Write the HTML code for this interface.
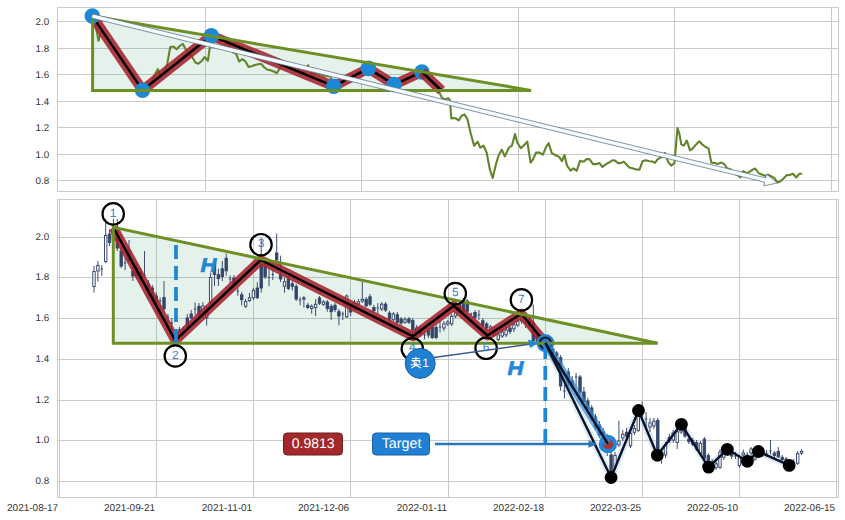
<!DOCTYPE html><html><head><meta charset="utf-8"><style>html,body{margin:0;padding:0;background:#fff;width:845px;height:520px;overflow:hidden}svg{display:block}text{font-family:"Liberation Sans",sans-serif;text-rendering:geometricPrecision}</style></head><body>
<svg width="845" height="520" viewBox="0 0 845 520">
<defs><clipPath id="ct"><rect x="57.5" y="7.5" width="781.0" height="184.0"/></clipPath><clipPath id="cb"><rect x="57.5" y="199.5" width="781.0" height="298.0"/></clipPath></defs>
<path d="M57.5,21.5H838.5M57.5,48.5H838.5M57.5,74.5H838.5M57.5,101.5H838.5M57.5,127.5H838.5M57.5,154.5H838.5M57.5,180.5H838.5M205.5,7.5V191.5M361.5,7.5V191.5M518.5,7.5V191.5M674.5,7.5V191.5M831.5,7.5V191.5" stroke="#cbcbcb" stroke-width="1" fill="none"/>
<rect x="57.5" y="7.5" width="781.0" height="184.0" fill="none" stroke="#cbcbcb" stroke-width="1"/>
<text x="49.2" y="25.0" font-size="9.8" fill="#333333" text-anchor="end">2.0</text>
<text x="49.2" y="52.0" font-size="9.8" fill="#333333" text-anchor="end">1.8</text>
<text x="49.2" y="78.0" font-size="9.8" fill="#333333" text-anchor="end">1.6</text>
<text x="49.2" y="105.0" font-size="9.8" fill="#333333" text-anchor="end">1.4</text>
<text x="49.2" y="131.0" font-size="9.8" fill="#333333" text-anchor="end">1.2</text>
<text x="49.2" y="158.0" font-size="9.8" fill="#333333" text-anchor="end">1.0</text>
<text x="49.2" y="184.0" font-size="9.8" fill="#333333" text-anchor="end">0.8</text>
<g clip-path="url(#ct)">
<polygon points="92.6,16.1 92.6,90.4 531.0,90.4" fill="#008040" fill-opacity="0.105"/>
<path d="M92.3,16.1 L95.1,22.0 L98.4,40.8 L101.4,30.0 L104.5,34.5 L107.7,39.0 L110.8,44.0 L113.9,48.0 L117.1,53.5 L120.2,57.0 L123.3,62.5 L126.5,66.5 L129.6,71.5 L132.7,76.5 L135.9,80.5 L139.0,85.5 L142.6,90.5 L145.3,88.0 L148.4,86.0 L151.5,82.0 L154.7,75.0 L157.8,69.2 L160.9,76.0 L164.1,73.0 L167.2,64.0 L170.3,47.0 L173.5,46.5 L176.6,49.2 L179.7,46.0 L182.8,43.8 L186.0,50.0 L189.1,53.5 L192.2,56.9 L195.4,62.5 L198.5,63.8 L201.6,61.0 L204.8,57.0 L207.9,60.8 L211.5,35.6 L214.2,38.0 L217.3,40.0 L220.4,42.0 L223.6,39.0 L226.7,43.0 L229.8,46.0 L233.0,52.3 L236.1,53.8 L239.2,61.5 L242.4,59.2 L245.5,61.5 L248.6,66.9 L251.8,66.2 L254.9,65.0 L258.0,64.3 L261.2,63.8 L264.3,67.5 L267.4,69.7 L270.6,70.2 L273.7,71.5 L276.8,73.1 L280.0,68.0 L283.1,66.0 L286.2,67.0 L289.4,69.0 L292.5,70.0 L295.6,70.0 L298.8,71.0 L301.9,72.0 L305.0,72.5 L308.2,65.3 L311.3,74.0 L314.4,73.0 L317.6,73.5 L320.7,74.4 L323.8,75.8 L327.0,76.0 L330.1,76.4 L333.7,86.2 L336.9,86.1 L340.0,81.5 L343.2,82.8 L346.3,78.2 L349.5,79.6 L352.6,75.0 L355.8,76.4 L358.9,71.8 L362.1,73.1 L365.2,68.5 L368.4,68.4 L371.6,71.9 L374.8,71.0 L378.0,76.0 L381.2,75.0 L384.5,80.0 L387.7,79.0 L390.9,84.1 L394.1,84.6 L397.2,84.7 L400.3,80.3 L403.4,81.9 L406.5,77.5 L409.5,79.1 L412.6,74.7 L415.7,76.3 L418.8,71.9 L421.9,72.0 L425.2,76.6 L428.4,76.7 L431.7,82.8 L435.0,82.8 L438.2,88.9 L439.2,92.1 L442.2,98.2 L445.3,99.2 L448.3,98.2 L449.9,100.2 L451.3,118.4 L454.3,118.0 L456.4,118.8 L458.8,120.4 L461.4,116.0 L464.4,114.3 L467.5,119.4 L470.5,132.5 L474.1,145.7 L477.6,141.6 L480.2,147.7 L483.6,145.7 L486.7,152.7 L489.7,168.9 L492.7,178.0 L495.8,164.8 L498.8,154.7 L501.8,149.7 L504.8,156.4 L508.9,147.7 L511.9,145.7 L515.0,134.1 L517.2,142.5 L520.8,148.2 L523.7,145.4 L527.3,141.7 L530.6,162.7 L533.1,159.1 L536.0,152.6 L539.6,152.6 L542.9,154.7 L546.1,146.8 L548.7,143.2 L551.8,153.3 L556.2,155.5 L559.1,156.9 L562.0,161.2 L564.5,155.0 L567.0,165.6 L570.6,170.6 L573.5,168.4 L576.7,170.9 L580.0,160.8 L583.6,161.7 L586.5,159.1 L589.4,159.1 L593.0,164.1 L596.6,164.1 L599.5,163.1 L602.4,167.0 L606.0,164.1 L609.6,162.2 L612.5,160.3 L615.0,160.6 L618.1,163.1 L620.6,163.1 L623.8,161.6 L626.9,165.0 L629.4,167.5 L633.1,168.4 L636.3,169.4 L639.4,169.8 L642.5,161.3 L645.6,160.3 L649.4,161.3 L652.5,161.5 L655.0,162.8 L657.5,159.4 L660.0,157.9 L662.5,156.9 L664.8,152.8 L666.9,158.8 L668.8,163.1 L671.3,165.6 L674.4,163.1 L675.0,156.3 L677.5,128.1 L679.4,133.8 L681.3,144.4 L683.8,145.6 L686.9,140.6 L690.0,150.5 L692.8,148.4 L695.7,144.9 L699.2,141.3 L702.8,144.9 L705.6,147.0 L708.5,148.4 L711.3,162.6 L714.9,162.9 L717.7,164.0 L721.3,162.6 L724.1,164.0 L727.2,168.3 L731.2,169.7 L735.5,174.0 L739.0,176.1 L740.4,177.5 L743.3,171.1 L746.8,173.3 L749.7,171.8 L752.5,169.7 L755.3,168.6 L758.9,173.3 L762.4,174.7 L766.0,176.1 L768.1,174.7 L771.0,176.1 L774.5,178.2 L777.4,182.5 L780.2,181.4 L783.8,178.2 L786.6,175.1 L789.4,175.1 L793.0,173.7 L796.3,177.5 L799.4,173.7 L802.2,173.7" stroke="#62842a" stroke-width="2.1" fill="none" stroke-linejoin="round"/>
<path d="M92.3,16.1 L142.5,90.2 L211.3,35.7 L333.7,86.2 L368.4,68.4 L394.1,84.6 L421.9,72.0" stroke="#a7222c" stroke-width="10.1" fill="none" stroke-linejoin="round" stroke-opacity="0.88"/>
<path d="M92.3,16.1 L142.5,90.2 L211.3,35.7 L333.7,86.2 L368.4,68.4 L394.1,84.6 L421.9,72.0" stroke="#000" stroke-width="2.4" fill="none" stroke-linejoin="round"/>
<circle cx="92.3" cy="16.1" r="7.8" fill="#1f88d6"/>
<circle cx="142.5" cy="90.2" r="7.8" fill="#1f88d6"/>
<circle cx="211.3" cy="35.7" r="7.8" fill="#1f88d6"/>
<circle cx="333.7" cy="86.2" r="7.8" fill="#1f88d6"/>
<circle cx="368.4" cy="68.4" r="7.8" fill="#1f88d6"/>
<circle cx="394.1" cy="84.6" r="7.8" fill="#1f88d6"/>
<circle cx="421.9" cy="72.0" r="7.8" fill="#1f88d6"/>
<path d="M421.9,72.0 L441.5,90.5" stroke="#a7222c" stroke-width="10.1" fill="none" stroke-linecap="butt" stroke-opacity="0.88"/>
<path d="M421.9,72.0 L441.5,90.5" stroke="#000" stroke-width="2.6" fill="none"/>
<polygon points="92.6,16.1 92.6,90.4 531.0,90.4" fill="none" stroke="#6c9024" stroke-width="3" stroke-linejoin="miter"/>
<polygon points="91.5,18.1 764.6,182.2 763.7,185.9 777.3,183.0 766.6,174.2 765.7,177.9 92.5,13.9" fill="#f6fbff" stroke="#587188" stroke-width="0.75" stroke-linejoin="miter"/>
</g>
<path d="M57.5,237.5H838.5M57.5,277.5H838.5M57.5,318.5H838.5M57.5,359.5H838.5M57.5,400.5H838.5M57.5,440.5H838.5M57.5,481.5H838.5M59.5,199.5V497.5M156.5,199.5V497.5M253.5,199.5V497.5M350.5,199.5V497.5M448.5,199.5V497.5M545.5,199.5V497.5M642.5,199.5V497.5M739.5,199.5V497.5M836.5,199.5V497.5" stroke="#cbcbcb" stroke-width="1" fill="none"/>
<rect x="57.5" y="199.5" width="781.0" height="298.0" fill="none" stroke="#cbcbcb" stroke-width="1"/>
<text x="49.2" y="240.0" font-size="9.8" fill="#333333" text-anchor="end">2.0</text>
<text x="49.2" y="280.0" font-size="9.8" fill="#333333" text-anchor="end">1.8</text>
<text x="49.2" y="321.0" font-size="9.8" fill="#333333" text-anchor="end">1.6</text>
<text x="49.2" y="362.0" font-size="9.8" fill="#333333" text-anchor="end">1.4</text>
<text x="49.2" y="403.0" font-size="9.8" fill="#333333" text-anchor="end">1.2</text>
<text x="49.2" y="443.0" font-size="9.8" fill="#333333" text-anchor="end">1.0</text>
<text x="49.2" y="484.0" font-size="9.8" fill="#333333" text-anchor="end">0.8</text>
<text x="58.2" y="511.0" font-size="10" fill="#333333" text-anchor="end">2021-08-17</text>
<text x="155.2" y="511.0" font-size="10" fill="#333333" text-anchor="end">2021-09-21</text>
<text x="252.2" y="511.0" font-size="10" fill="#333333" text-anchor="end">2021-11-01</text>
<text x="349.2" y="511.0" font-size="10" fill="#333333" text-anchor="end">2021-12-06</text>
<text x="447.2" y="511.0" font-size="10" fill="#333333" text-anchor="end">2022-01-11</text>
<text x="544.2" y="511.0" font-size="10" fill="#333333" text-anchor="end">2022-02-18</text>
<text x="641.2" y="511.0" font-size="10" fill="#333333" text-anchor="end">2022-03-25</text>
<text x="738.2" y="511.0" font-size="10" fill="#333333" text-anchor="end">2022-05-10</text>
<text x="835.2" y="511.0" font-size="10" fill="#333333" text-anchor="end">2022-06-15</text>
<g clip-path="url(#cb)">
<polygon points="113.3,227.3 113.3,343.3 657.7,343.3" fill="#008040" fill-opacity="0.105"/>
<path d="M545.4,343.0 L611.1,477.5 L638.5,410.5 L657.3,455.3 L681.4,424.3 L708.6,467.1 L727.3,449.3 L747.4,461.3 L758.4,451.5 L789.2,465.4" stroke="#a9cbea" stroke-width="7" fill="none" stroke-linejoin="round" opacity="0.4"/>
<path d="M94.0,266.0V292.5" stroke="#34466a" stroke-width="0.95"/>
<rect x="92.8" y="271.5" width="2.4" height="15.0" fill="#fff" stroke="#34466a" stroke-width="0.95"/>
<path d="M97.9,261.0V281.5" stroke="#34466a" stroke-width="0.95"/>
<rect x="96.7" y="265.4" width="2.4" height="5.6" fill="#fff" stroke="#34466a" stroke-width="0.95"/>
<path d="M101.8,265.0V276.0" stroke="#34466a" stroke-width="0.95"/>
<path d="M100.6,269.0H103.0" stroke="#34466a" stroke-width="1"/>
<path d="M105.7,219.0V263.0" stroke="#34466a" stroke-width="0.95"/>
<rect x="104.5" y="235.4" width="2.4" height="26.1" fill="#fff" stroke="#34466a" stroke-width="0.95"/>
<path d="M109.5,230.0V246.0" stroke="#34466a" stroke-width="0.95"/>
<rect x="108.3" y="234.0" width="2.4" height="8.5" fill="#34466a" stroke="#34466a" stroke-width="0.95"/>
<path d="M113.4,218.5V243.0" stroke="#34466a" stroke-width="0.95"/>
<rect x="112.2" y="232.0" width="2.4" height="8.0" fill="#fff" stroke="#34466a" stroke-width="0.95"/>
<path d="M117.3,219.0V251.0" stroke="#34466a" stroke-width="0.95"/>
<rect x="116.1" y="238.0" width="2.4" height="10.0" fill="#34466a" stroke="#34466a" stroke-width="0.95"/>
<path d="M121.2,246.0V268.0" stroke="#34466a" stroke-width="0.95"/>
<rect x="120.0" y="251.0" width="2.4" height="15.0" fill="#34466a" stroke="#34466a" stroke-width="0.95"/>
<path d="M125.1,257.5V270.0" stroke="#34466a" stroke-width="0.95"/>
<path d="M123.9,263.0H126.3" stroke="#34466a" stroke-width="1"/>
<path d="M129.0,240.0V262.0" stroke="#34466a" stroke-width="0.95"/>
<rect x="127.8" y="250.0" width="2.4" height="10.0" fill="#34466a" stroke="#34466a" stroke-width="0.95"/>
<path d="M132.9,266.0V281.0" stroke="#34466a" stroke-width="0.95"/>
<rect x="131.7" y="271.0" width="2.4" height="5.0" fill="#34466a" stroke="#34466a" stroke-width="0.95"/>
<path d="M136.8,264.0V279.0" stroke="#34466a" stroke-width="0.95"/>
<rect x="135.6" y="268.0" width="2.4" height="8.0" fill="#34466a" stroke="#34466a" stroke-width="0.95"/>
<path d="M140.6,268.0V283.0" stroke="#34466a" stroke-width="0.95"/>
<rect x="139.4" y="272.0" width="2.4" height="8.0" fill="#34466a" stroke="#34466a" stroke-width="0.95"/>
<path d="M144.5,251.0V277.5" stroke="#34466a" stroke-width="0.95"/>
<path d="M143.3,275.0H145.7" stroke="#34466a" stroke-width="1"/>
<path d="M148.4,280.0V295.0" stroke="#34466a" stroke-width="0.95"/>
<rect x="147.2" y="284.0" width="2.4" height="8.0" fill="#34466a" stroke="#34466a" stroke-width="0.95"/>
<path d="M152.3,285.0V300.0" stroke="#34466a" stroke-width="0.95"/>
<rect x="151.1" y="288.0" width="2.4" height="10.0" fill="#34466a" stroke="#34466a" stroke-width="0.95"/>
<path d="M156.2,292.0V306.0" stroke="#34466a" stroke-width="0.95"/>
<rect x="155.0" y="296.0" width="2.4" height="8.0" fill="#34466a" stroke="#34466a" stroke-width="0.95"/>
<path d="M160.1,297.5V315.0" stroke="#34466a" stroke-width="0.95"/>
<path d="M158.9,301.0H161.3" stroke="#34466a" stroke-width="1"/>
<path d="M164.0,281.0V312.0" stroke="#34466a" stroke-width="0.95"/>
<rect x="162.8" y="297.5" width="2.4" height="11.3" fill="#34466a" stroke="#34466a" stroke-width="0.95"/>
<path d="M167.9,314.0V322.5" stroke="#34466a" stroke-width="0.95"/>
<path d="M166.7,317.0H169.1" stroke="#34466a" stroke-width="1"/>
<path d="M171.8,318.0V330.0" stroke="#34466a" stroke-width="0.95"/>
<path d="M170.6,323.0H173.0" stroke="#34466a" stroke-width="1"/>
<path d="M175.6,330.0V340.4" stroke="#34466a" stroke-width="0.95"/>
<path d="M174.4,337.0H176.8" stroke="#34466a" stroke-width="1"/>
<path d="M179.5,327.0V338.0" stroke="#34466a" stroke-width="0.95"/>
<rect x="178.3" y="330.0" width="2.4" height="6.0" fill="#fff" stroke="#34466a" stroke-width="0.95"/>
<path d="M183.4,326.5V336.0" stroke="#34466a" stroke-width="0.95"/>
<path d="M182.2,331.0H184.6" stroke="#34466a" stroke-width="1"/>
<path d="M187.3,314.0V330.0" stroke="#34466a" stroke-width="0.95"/>
<rect x="186.1" y="318.0" width="2.4" height="8.0" fill="#34466a" stroke="#34466a" stroke-width="0.95"/>
<path d="M191.2,310.0V319.0" stroke="#34466a" stroke-width="0.95"/>
<rect x="190.0" y="314.0" width="2.4" height="4.0" fill="#34466a" stroke="#34466a" stroke-width="0.95"/>
<path d="M195.1,302.5V315.0" stroke="#34466a" stroke-width="0.95"/>
<path d="M193.9,309.0H196.3" stroke="#34466a" stroke-width="1"/>
<path d="M199.0,303.0V318.0" stroke="#34466a" stroke-width="0.95"/>
<rect x="197.8" y="306.3" width="2.4" height="8.7" fill="#34466a" stroke="#34466a" stroke-width="0.95"/>
<path d="M202.9,302.0V316.0" stroke="#34466a" stroke-width="0.95"/>
<rect x="201.7" y="306.0" width="2.4" height="6.0" fill="#fff" stroke="#34466a" stroke-width="0.95"/>
<path d="M206.7,306.0V325.6" stroke="#34466a" stroke-width="0.95"/>
<rect x="205.5" y="310.0" width="2.4" height="8.0" fill="#fff" stroke="#34466a" stroke-width="0.95"/>
<path d="M210.6,272.7V304.0" stroke="#34466a" stroke-width="0.95"/>
<rect x="209.4" y="277.5" width="2.4" height="25.0" fill="#fff" stroke="#34466a" stroke-width="0.95"/>
<path d="M214.5,258.0V286.0" stroke="#34466a" stroke-width="0.95"/>
<rect x="213.3" y="263.0" width="2.4" height="11.6" fill="#34466a" stroke="#34466a" stroke-width="0.95"/>
<path d="M218.4,268.8V286.0" stroke="#34466a" stroke-width="0.95"/>
<rect x="217.2" y="274.6" width="2.4" height="3.9" fill="#34466a" stroke="#34466a" stroke-width="0.95"/>
<path d="M222.3,261.0V281.0" stroke="#34466a" stroke-width="0.95"/>
<rect x="221.1" y="268.8" width="2.4" height="7.7" fill="#34466a" stroke="#34466a" stroke-width="0.95"/>
<path d="M226.2,253.5V275.6" stroke="#34466a" stroke-width="0.95"/>
<rect x="225.0" y="258.3" width="2.4" height="12.5" fill="#34466a" stroke="#34466a" stroke-width="0.95"/>
<path d="M230.1,275.6V283.0" stroke="#34466a" stroke-width="0.95"/>
<path d="M228.9,279.0H231.3" stroke="#34466a" stroke-width="1"/>
<path d="M234.0,275.0V288.0" stroke="#34466a" stroke-width="0.95"/>
<rect x="232.8" y="278.0" width="2.4" height="7.0" fill="#34466a" stroke="#34466a" stroke-width="0.95"/>
<path d="M237.8,288.0V295.8" stroke="#34466a" stroke-width="0.95"/>
<path d="M236.6,291.0H239.0" stroke="#34466a" stroke-width="1"/>
<path d="M241.7,292.0V305.4" stroke="#34466a" stroke-width="0.95"/>
<rect x="240.5" y="294.8" width="2.4" height="4.8" fill="#34466a" stroke="#34466a" stroke-width="0.95"/>
<path d="M245.6,299.0V308.0" stroke="#34466a" stroke-width="0.95"/>
<rect x="244.4" y="301.5" width="2.4" height="4.8" fill="#fff" stroke="#34466a" stroke-width="0.95"/>
<path d="M249.5,292.9V302.0" stroke="#34466a" stroke-width="0.95"/>
<rect x="248.3" y="297.7" width="2.4" height="2.9" fill="#fff" stroke="#34466a" stroke-width="0.95"/>
<path d="M253.4,288.0V300.0" stroke="#34466a" stroke-width="0.95"/>
<rect x="252.2" y="290.4" width="2.4" height="7.3" fill="#fff" stroke="#34466a" stroke-width="0.95"/>
<path d="M257.3,282.3V299.0" stroke="#34466a" stroke-width="0.95"/>
<rect x="256.1" y="288.0" width="2.4" height="9.7" fill="#34466a" stroke="#34466a" stroke-width="0.95"/>
<path d="M261.2,238.0V292.7" stroke="#34466a" stroke-width="0.95"/>
<rect x="260.0" y="265.0" width="2.4" height="23.0" fill="#34466a" stroke="#34466a" stroke-width="0.95"/>
<path d="M265.1,262.0V279.0" stroke="#34466a" stroke-width="0.95"/>
<rect x="263.9" y="266.2" width="2.4" height="10.6" fill="#34466a" stroke="#34466a" stroke-width="0.95"/>
<path d="M269.0,269.4V286.3" stroke="#34466a" stroke-width="0.95"/>
<path d="M267.8,277.5H270.2" stroke="#34466a" stroke-width="1"/>
<path d="M272.8,269.4V280.0" stroke="#34466a" stroke-width="0.95"/>
<path d="M271.6,274.5H274.0" stroke="#34466a" stroke-width="1"/>
<path d="M276.7,233.5V262.0" stroke="#34466a" stroke-width="0.95"/>
<rect x="275.5" y="253.0" width="2.4" height="7.0" fill="#34466a" stroke="#34466a" stroke-width="0.95"/>
<path d="M280.6,255.7V282.0" stroke="#34466a" stroke-width="0.95"/>
<rect x="279.4" y="274.7" width="2.4" height="4.3" fill="#34466a" stroke="#34466a" stroke-width="0.95"/>
<path d="M284.5,277.9V292.7" stroke="#34466a" stroke-width="0.95"/>
<rect x="283.3" y="281.7" width="2.4" height="4.6" fill="#fff" stroke="#34466a" stroke-width="0.95"/>
<path d="M288.4,276.0V290.0" stroke="#34466a" stroke-width="0.95"/>
<rect x="287.2" y="278.9" width="2.4" height="9.5" fill="#34466a" stroke="#34466a" stroke-width="0.95"/>
<path d="M292.3,281.0V290.5" stroke="#34466a" stroke-width="0.95"/>
<rect x="291.1" y="283.8" width="2.4" height="2.5" fill="#34466a" stroke="#34466a" stroke-width="0.95"/>
<path d="M296.2,284.0V301.0" stroke="#34466a" stroke-width="0.95"/>
<rect x="295.0" y="286.3" width="2.4" height="12.7" fill="#34466a" stroke="#34466a" stroke-width="0.95"/>
<path d="M300.1,296.9V305.3" stroke="#34466a" stroke-width="0.95"/>
<path d="M298.9,300.0H301.3" stroke="#34466a" stroke-width="1"/>
<path d="M303.9,296.0V307.5" stroke="#34466a" stroke-width="0.95"/>
<rect x="302.7" y="298.0" width="2.4" height="1.0" fill="#34466a" stroke="#34466a" stroke-width="0.95"/>
<path d="M307.8,303.0V309.0" stroke="#34466a" stroke-width="0.95"/>
<rect x="306.6" y="305.3" width="2.4" height="2.2" fill="#34466a" stroke="#34466a" stroke-width="0.95"/>
<path d="M311.7,304.3V313.8" stroke="#34466a" stroke-width="0.95"/>
<rect x="310.5" y="306.4" width="2.4" height="2.1" fill="#fff" stroke="#34466a" stroke-width="0.95"/>
<path d="M315.6,299.0V316.0" stroke="#34466a" stroke-width="0.95"/>
<rect x="314.4" y="304.3" width="2.4" height="3.2" fill="#fff" stroke="#34466a" stroke-width="0.95"/>
<path d="M319.5,296.0V305.0" stroke="#34466a" stroke-width="0.95"/>
<rect x="318.3" y="298.0" width="2.4" height="5.2" fill="#34466a" stroke="#34466a" stroke-width="0.95"/>
<path d="M323.4,300.0V306.0" stroke="#34466a" stroke-width="0.95"/>
<rect x="322.2" y="302.0" width="2.4" height="2.3" fill="#fff" stroke="#34466a" stroke-width="0.95"/>
<path d="M327.3,300.0V311.7" stroke="#34466a" stroke-width="0.95"/>
<rect x="326.1" y="302.0" width="2.4" height="6.5" fill="#34466a" stroke="#34466a" stroke-width="0.95"/>
<path d="M331.2,304.0V320.0" stroke="#34466a" stroke-width="0.95"/>
<rect x="330.0" y="306.4" width="2.4" height="5.3" fill="#34466a" stroke="#34466a" stroke-width="0.95"/>
<path d="M335.0,303.0V312.0" stroke="#34466a" stroke-width="0.95"/>
<rect x="333.8" y="305.3" width="2.4" height="4.3" fill="#34466a" stroke="#34466a" stroke-width="0.95"/>
<path d="M338.9,309.0V325.4" stroke="#34466a" stroke-width="0.95"/>
<rect x="337.7" y="311.7" width="2.4" height="4.3" fill="#34466a" stroke="#34466a" stroke-width="0.95"/>
<path d="M342.8,311.7V320.0" stroke="#34466a" stroke-width="0.95"/>
<path d="M341.6,314.0H344.0" stroke="#34466a" stroke-width="1"/>
<path d="M346.7,294.4V318.0" stroke="#34466a" stroke-width="0.95"/>
<rect x="345.5" y="296.0" width="2.4" height="20.8" fill="#fff" stroke="#34466a" stroke-width="0.95"/>
<path d="M350.6,303.0V316.0" stroke="#34466a" stroke-width="0.95"/>
<rect x="349.4" y="306.0" width="2.4" height="6.0" fill="#34466a" stroke="#34466a" stroke-width="0.95"/>
<path d="M354.5,300.0V311.0" stroke="#34466a" stroke-width="0.95"/>
<rect x="353.3" y="303.0" width="2.4" height="5.0" fill="#fff" stroke="#34466a" stroke-width="0.95"/>
<path d="M358.4,299.0V306.0" stroke="#34466a" stroke-width="0.95"/>
<rect x="357.2" y="301.7" width="2.4" height="2.2" fill="#fff" stroke="#34466a" stroke-width="0.95"/>
<path d="M362.3,281.3V303.0" stroke="#34466a" stroke-width="0.95"/>
<rect x="361.1" y="299.3" width="2.4" height="1.7" fill="#fff" stroke="#34466a" stroke-width="0.95"/>
<path d="M366.2,297.0V307.0" stroke="#34466a" stroke-width="0.95"/>
<rect x="365.0" y="299.3" width="2.4" height="6.5" fill="#34466a" stroke="#34466a" stroke-width="0.95"/>
<path d="M370.0,294.0V306.0" stroke="#34466a" stroke-width="0.95"/>
<rect x="368.8" y="296.8" width="2.4" height="7.4" fill="#34466a" stroke="#34466a" stroke-width="0.95"/>
<path d="M373.9,305.0V313.0" stroke="#34466a" stroke-width="0.95"/>
<rect x="372.7" y="307.5" width="2.4" height="3.2" fill="#34466a" stroke="#34466a" stroke-width="0.95"/>
<path d="M377.8,303.0V314.0" stroke="#34466a" stroke-width="0.95"/>
<path d="M376.6,308.0H379.0" stroke="#34466a" stroke-width="1"/>
<path d="M381.7,302.0V311.0" stroke="#34466a" stroke-width="0.95"/>
<rect x="380.5" y="304.2" width="2.4" height="4.8" fill="#fff" stroke="#34466a" stroke-width="0.95"/>
<path d="M385.6,302.0V312.0" stroke="#34466a" stroke-width="0.95"/>
<rect x="384.4" y="304.2" width="2.4" height="5.8" fill="#34466a" stroke="#34466a" stroke-width="0.95"/>
<path d="M389.5,311.0V321.0" stroke="#34466a" stroke-width="0.95"/>
<rect x="388.3" y="313.2" width="2.4" height="5.8" fill="#34466a" stroke="#34466a" stroke-width="0.95"/>
<path d="M393.4,312.0V321.0" stroke="#34466a" stroke-width="0.95"/>
<rect x="392.2" y="314.0" width="2.4" height="5.7" fill="#fff" stroke="#34466a" stroke-width="0.95"/>
<path d="M397.3,312.0V324.0" stroke="#34466a" stroke-width="0.95"/>
<rect x="396.1" y="314.8" width="2.4" height="7.4" fill="#34466a" stroke="#34466a" stroke-width="0.95"/>
<path d="M401.1,317.0V325.0" stroke="#34466a" stroke-width="0.95"/>
<rect x="399.9" y="319.0" width="2.4" height="4.0" fill="#34466a" stroke="#34466a" stroke-width="0.95"/>
<path d="M405.0,317.0V324.0" stroke="#34466a" stroke-width="0.95"/>
<rect x="403.8" y="319.7" width="2.4" height="2.5" fill="#fff" stroke="#34466a" stroke-width="0.95"/>
<path d="M408.9,317.0V324.0" stroke="#34466a" stroke-width="0.95"/>
<rect x="407.7" y="319.0" width="2.4" height="3.2" fill="#34466a" stroke="#34466a" stroke-width="0.95"/>
<path d="M412.8,318.0V336.3" stroke="#34466a" stroke-width="0.95"/>
<rect x="411.6" y="320.6" width="2.4" height="9.0" fill="#34466a" stroke="#34466a" stroke-width="0.95"/>
<path d="M416.7,325.0V337.0" stroke="#34466a" stroke-width="0.95"/>
<rect x="415.5" y="328.0" width="2.4" height="5.0" fill="#fff" stroke="#34466a" stroke-width="0.95"/>
<path d="M420.6,326.0V337.0" stroke="#34466a" stroke-width="0.95"/>
<rect x="419.4" y="329.0" width="2.4" height="5.0" fill="#34466a" stroke="#34466a" stroke-width="0.95"/>
<path d="M424.5,332.5V339.4" stroke="#34466a" stroke-width="0.95"/>
<path d="M423.3,335.0H425.7" stroke="#34466a" stroke-width="1"/>
<path d="M428.4,328.0V338.0" stroke="#34466a" stroke-width="0.95"/>
<rect x="427.2" y="330.0" width="2.4" height="5.0" fill="#34466a" stroke="#34466a" stroke-width="0.95"/>
<path d="M432.2,325.0V339.0" stroke="#34466a" stroke-width="0.95"/>
<rect x="431.0" y="327.5" width="2.4" height="10.0" fill="#34466a" stroke="#34466a" stroke-width="0.95"/>
<path d="M436.1,325.0V339.4" stroke="#34466a" stroke-width="0.95"/>
<rect x="434.9" y="327.5" width="2.4" height="10.0" fill="#34466a" stroke="#34466a" stroke-width="0.95"/>
<path d="M440.0,321.0V332.5" stroke="#34466a" stroke-width="0.95"/>
<path d="M438.8,327.0H441.2" stroke="#34466a" stroke-width="1"/>
<path d="M443.9,321.0V331.0" stroke="#34466a" stroke-width="0.95"/>
<rect x="442.7" y="323.8" width="2.4" height="4.2" fill="#fff" stroke="#34466a" stroke-width="0.95"/>
<path d="M447.8,320.0V326.0" stroke="#34466a" stroke-width="0.95"/>
<rect x="446.6" y="321.9" width="2.4" height="2.1" fill="#fff" stroke="#34466a" stroke-width="0.95"/>
<path d="M451.7,313.8V326.0" stroke="#34466a" stroke-width="0.95"/>
<rect x="450.5" y="316.3" width="2.4" height="7.5" fill="#fff" stroke="#34466a" stroke-width="0.95"/>
<path d="M455.6,305.8V318.0" stroke="#34466a" stroke-width="0.95"/>
<rect x="454.4" y="306.0" width="2.4" height="10.0" fill="#fff" stroke="#34466a" stroke-width="0.95"/>
<path d="M459.5,300.0V313.0" stroke="#34466a" stroke-width="0.95"/>
<rect x="458.3" y="304.0" width="2.4" height="6.0" fill="#34466a" stroke="#34466a" stroke-width="0.95"/>
<path d="M463.4,298.0V314.0" stroke="#34466a" stroke-width="0.95"/>
<rect x="462.2" y="303.0" width="2.4" height="8.9" fill="#34466a" stroke="#34466a" stroke-width="0.95"/>
<path d="M467.2,299.0V313.0" stroke="#34466a" stroke-width="0.95"/>
<rect x="466.0" y="301.0" width="2.4" height="10.3" fill="#34466a" stroke="#34466a" stroke-width="0.95"/>
<path d="M471.1,312.5V316.0" stroke="#34466a" stroke-width="0.95"/>
<path d="M469.9,314.0H472.3" stroke="#34466a" stroke-width="1"/>
<path d="M475.0,310.0V319.0" stroke="#34466a" stroke-width="0.95"/>
<rect x="473.8" y="312.5" width="2.4" height="5.0" fill="#34466a" stroke="#34466a" stroke-width="0.95"/>
<path d="M478.9,310.0V320.0" stroke="#34466a" stroke-width="0.95"/>
<path d="M477.7,315.0H480.1" stroke="#34466a" stroke-width="1"/>
<path d="M482.8,318.0V327.0" stroke="#34466a" stroke-width="0.95"/>
<rect x="481.6" y="320.7" width="2.4" height="4.7" fill="#34466a" stroke="#34466a" stroke-width="0.95"/>
<path d="M486.7,322.0V335.5" stroke="#34466a" stroke-width="0.95"/>
<rect x="485.5" y="324.0" width="2.4" height="4.0" fill="#34466a" stroke="#34466a" stroke-width="0.95"/>
<path d="M490.6,325.0V334.0" stroke="#34466a" stroke-width="0.95"/>
<rect x="489.4" y="327.0" width="2.4" height="5.0" fill="#fff" stroke="#34466a" stroke-width="0.95"/>
<path d="M494.5,327.0V337.0" stroke="#34466a" stroke-width="0.95"/>
<rect x="493.3" y="330.0" width="2.4" height="5.0" fill="#fff" stroke="#34466a" stroke-width="0.95"/>
<path d="M498.3,332.0V341.0" stroke="#34466a" stroke-width="0.95"/>
<rect x="497.1" y="334.8" width="2.4" height="4.7" fill="#fff" stroke="#34466a" stroke-width="0.95"/>
<path d="M502.2,329.0V338.0" stroke="#34466a" stroke-width="0.95"/>
<rect x="501.0" y="332.0" width="2.4" height="4.0" fill="#fff" stroke="#34466a" stroke-width="0.95"/>
<path d="M506.1,327.0V337.0" stroke="#34466a" stroke-width="0.95"/>
<rect x="504.9" y="330.0" width="2.4" height="4.8" fill="#fff" stroke="#34466a" stroke-width="0.95"/>
<path d="M510.0,326.0V334.0" stroke="#34466a" stroke-width="0.95"/>
<rect x="508.8" y="328.0" width="2.4" height="3.5" fill="#34466a" stroke="#34466a" stroke-width="0.95"/>
<path d="M513.9,322.0V332.0" stroke="#34466a" stroke-width="0.95"/>
<rect x="512.7" y="324.7" width="2.4" height="4.1" fill="#fff" stroke="#34466a" stroke-width="0.95"/>
<path d="M517.8,319.0V327.0" stroke="#34466a" stroke-width="0.95"/>
<rect x="516.6" y="321.0" width="2.4" height="4.0" fill="#fff" stroke="#34466a" stroke-width="0.95"/>
<path d="M521.7,313.8V324.0" stroke="#34466a" stroke-width="0.95"/>
<rect x="520.5" y="314.0" width="2.4" height="7.0" fill="#fff" stroke="#34466a" stroke-width="0.95"/>
<path d="M525.6,320.0V328.0" stroke="#34466a" stroke-width="0.95"/>
<path d="M524.4,323.0H526.8" stroke="#34466a" stroke-width="1"/>
<path d="M529.4,318.0V328.0" stroke="#34466a" stroke-width="0.95"/>
<rect x="528.2" y="320.0" width="2.4" height="6.0" fill="#34466a" stroke="#34466a" stroke-width="0.95"/>
<path d="M533.3,304.5V342.0" stroke="#34466a" stroke-width="0.95"/>
<rect x="532.1" y="322.7" width="2.4" height="18.2" fill="#34466a" stroke="#34466a" stroke-width="0.95"/>
<path d="M537.2,333.0V343.0" stroke="#34466a" stroke-width="0.95"/>
<rect x="536.0" y="335.0" width="2.4" height="6.0" fill="#34466a" stroke="#34466a" stroke-width="0.95"/>
<path d="M541.1,336.0V345.0" stroke="#34466a" stroke-width="0.95"/>
<rect x="539.9" y="338.0" width="2.4" height="5.0" fill="#34466a" stroke="#34466a" stroke-width="0.95"/>
<path d="M545.0,339.0V348.0" stroke="#34466a" stroke-width="0.95"/>
<rect x="543.8" y="341.0" width="2.4" height="4.0" fill="#34466a" stroke="#34466a" stroke-width="0.95"/>
<path d="M548.9,344.0V353.0" stroke="#34466a" stroke-width="0.95"/>
<rect x="547.7" y="346.0" width="2.4" height="5.0" fill="#34466a" stroke="#34466a" stroke-width="0.95"/>
<path d="M552.8,347.0V355.0" stroke="#34466a" stroke-width="0.95"/>
<rect x="551.6" y="349.0" width="2.4" height="4.0" fill="#34466a" stroke="#34466a" stroke-width="0.95"/>
<path d="M556.7,351.0V358.0" stroke="#34466a" stroke-width="0.95"/>
<rect x="555.5" y="353.0" width="2.4" height="3.0" fill="#34466a" stroke="#34466a" stroke-width="0.95"/>
<path d="M560.6,355.0V390.8" stroke="#34466a" stroke-width="0.95"/>
<rect x="559.4" y="357.7" width="2.4" height="28.3" fill="#34466a" stroke="#34466a" stroke-width="0.95"/>
<path d="M564.4,384.6V398.5" stroke="#34466a" stroke-width="0.95"/>
<path d="M563.2,391.0H565.6" stroke="#34466a" stroke-width="1"/>
<path d="M568.3,368.0V386.0" stroke="#34466a" stroke-width="0.95"/>
<rect x="567.1" y="372.0" width="2.4" height="10.0" fill="#34466a" stroke="#34466a" stroke-width="0.95"/>
<path d="M572.2,376.0V389.0" stroke="#34466a" stroke-width="0.95"/>
<rect x="571.0" y="380.8" width="2.4" height="5.2" fill="#34466a" stroke="#34466a" stroke-width="0.95"/>
<path d="M576.1,373.0V388.0" stroke="#34466a" stroke-width="0.95"/>
<path d="M574.9,377.0H577.3" stroke="#34466a" stroke-width="1"/>
<path d="M580.0,375.0V395.0" stroke="#34466a" stroke-width="0.95"/>
<rect x="578.8" y="377.0" width="2.4" height="15.3" fill="#34466a" stroke="#34466a" stroke-width="0.95"/>
<path d="M583.9,387.0V404.0" stroke="#34466a" stroke-width="0.95"/>
<rect x="582.7" y="392.0" width="2.4" height="9.5" fill="#34466a" stroke="#34466a" stroke-width="0.95"/>
<path d="M587.8,398.0V413.0" stroke="#34466a" stroke-width="0.95"/>
<rect x="586.6" y="401.0" width="2.4" height="9.0" fill="#34466a" stroke="#34466a" stroke-width="0.95"/>
<path d="M591.7,405.0V421.0" stroke="#34466a" stroke-width="0.95"/>
<rect x="590.5" y="408.0" width="2.4" height="10.0" fill="#34466a" stroke="#34466a" stroke-width="0.95"/>
<path d="M595.5,414.0V430.0" stroke="#34466a" stroke-width="0.95"/>
<rect x="594.3" y="417.0" width="2.4" height="10.0" fill="#34466a" stroke="#34466a" stroke-width="0.95"/>
<path d="M599.4,421.0V438.0" stroke="#34466a" stroke-width="0.95"/>
<rect x="598.2" y="425.0" width="2.4" height="10.0" fill="#34466a" stroke="#34466a" stroke-width="0.95"/>
<path d="M603.3,428.0V444.0" stroke="#34466a" stroke-width="0.95"/>
<rect x="602.1" y="432.0" width="2.4" height="8.0" fill="#34466a" stroke="#34466a" stroke-width="0.95"/>
<path d="M607.2,434.0V456.0" stroke="#34466a" stroke-width="0.95"/>
<rect x="606.0" y="438.0" width="2.4" height="14.0" fill="#34466a" stroke="#34466a" stroke-width="0.95"/>
<path d="M611.1,450.0V480.0" stroke="#34466a" stroke-width="0.95"/>
<rect x="609.9" y="455.0" width="2.4" height="22.5" fill="#34466a" stroke="#34466a" stroke-width="0.95"/>
<path d="M615.0,452.0V470.0" stroke="#34466a" stroke-width="0.95"/>
<rect x="613.8" y="455.4" width="2.4" height="11.6" fill="#fff" stroke="#34466a" stroke-width="0.95"/>
<path d="M618.9,420.8V447.0" stroke="#34466a" stroke-width="0.95"/>
<rect x="617.7" y="441.0" width="2.4" height="3.8" fill="#fff" stroke="#34466a" stroke-width="0.95"/>
<path d="M622.8,430.0V441.0" stroke="#34466a" stroke-width="0.95"/>
<rect x="621.6" y="434.2" width="2.4" height="3.8" fill="#fff" stroke="#34466a" stroke-width="0.95"/>
<path d="M626.6,428.0V439.0" stroke="#34466a" stroke-width="0.95"/>
<rect x="625.4" y="432.3" width="2.4" height="3.7" fill="#34466a" stroke="#34466a" stroke-width="0.95"/>
<path d="M630.5,430.0V448.0" stroke="#34466a" stroke-width="0.95"/>
<rect x="629.3" y="433.3" width="2.4" height="12.5" fill="#fff" stroke="#34466a" stroke-width="0.95"/>
<path d="M634.4,425.0V435.0" stroke="#34466a" stroke-width="0.95"/>
<rect x="633.2" y="428.5" width="2.4" height="3.8" fill="#fff" stroke="#34466a" stroke-width="0.95"/>
<path d="M638.3,405.0V432.0" stroke="#34466a" stroke-width="0.95"/>
<rect x="637.1" y="410.5" width="2.4" height="19.9" fill="#fff" stroke="#34466a" stroke-width="0.95"/>
<path d="M642.2,401.5V418.0" stroke="#34466a" stroke-width="0.95"/>
<path d="M641.0,413.0H643.4" stroke="#34466a" stroke-width="1"/>
<path d="M646.1,412.0V428.0" stroke="#34466a" stroke-width="0.95"/>
<path d="M644.9,419.0H647.3" stroke="#34466a" stroke-width="1"/>
<path d="M650.0,418.0V432.0" stroke="#34466a" stroke-width="0.95"/>
<rect x="648.8" y="422.8" width="2.4" height="4.2" fill="#fff" stroke="#34466a" stroke-width="0.95"/>
<path d="M653.9,418.0V429.0" stroke="#34466a" stroke-width="0.95"/>
<rect x="652.7" y="421.2" width="2.4" height="4.8" fill="#fff" stroke="#34466a" stroke-width="0.95"/>
<path d="M657.8,418.0V457.0" stroke="#34466a" stroke-width="0.95"/>
<rect x="656.6" y="420.4" width="2.4" height="34.6" fill="#34466a" stroke="#34466a" stroke-width="0.95"/>
<path d="M661.6,455.0V463.7" stroke="#34466a" stroke-width="0.95"/>
<path d="M660.4,458.0H662.8" stroke="#34466a" stroke-width="1"/>
<path d="M665.5,442.0V458.0" stroke="#34466a" stroke-width="0.95"/>
<rect x="664.3" y="445.0" width="2.4" height="10.0" fill="#fff" stroke="#34466a" stroke-width="0.95"/>
<path d="M669.4,434.0V443.0" stroke="#34466a" stroke-width="0.95"/>
<rect x="668.2" y="437.5" width="2.4" height="3.3" fill="#34466a" stroke="#34466a" stroke-width="0.95"/>
<path d="M673.3,430.0V443.0" stroke="#34466a" stroke-width="0.95"/>
<rect x="672.1" y="433.0" width="2.4" height="7.0" fill="#fff" stroke="#34466a" stroke-width="0.95"/>
<path d="M677.2,428.0V449.0" stroke="#34466a" stroke-width="0.95"/>
<rect x="676.0" y="431.8" width="2.4" height="10.7" fill="#fff" stroke="#34466a" stroke-width="0.95"/>
<path d="M681.1,420.0V434.0" stroke="#34466a" stroke-width="0.95"/>
<rect x="679.9" y="424.0" width="2.4" height="8.0" fill="#fff" stroke="#34466a" stroke-width="0.95"/>
<path d="M685.0,423.0V438.0" stroke="#34466a" stroke-width="0.95"/>
<rect x="683.8" y="426.0" width="2.4" height="10.0" fill="#34466a" stroke="#34466a" stroke-width="0.95"/>
<path d="M688.9,436.0V444.0" stroke="#34466a" stroke-width="0.95"/>
<rect x="687.7" y="439.2" width="2.4" height="2.4" fill="#34466a" stroke="#34466a" stroke-width="0.95"/>
<path d="M692.7,438.0V446.0" stroke="#34466a" stroke-width="0.95"/>
<rect x="691.5" y="440.8" width="2.4" height="3.2" fill="#34466a" stroke="#34466a" stroke-width="0.95"/>
<path d="M696.6,440.0V451.0" stroke="#34466a" stroke-width="0.95"/>
<rect x="695.4" y="442.5" width="2.4" height="6.5" fill="#34466a" stroke="#34466a" stroke-width="0.95"/>
<path d="M700.5,441.0V456.0" stroke="#34466a" stroke-width="0.95"/>
<rect x="699.3" y="443.3" width="2.4" height="10.7" fill="#fff" stroke="#34466a" stroke-width="0.95"/>
<path d="M704.4,437.0V460.0" stroke="#34466a" stroke-width="0.95"/>
<rect x="703.2" y="439.2" width="2.4" height="18.8" fill="#34466a" stroke="#34466a" stroke-width="0.95"/>
<path d="M708.3,453.0V470.0" stroke="#34466a" stroke-width="0.95"/>
<rect x="707.1" y="455.6" width="2.4" height="11.4" fill="#34466a" stroke="#34466a" stroke-width="0.95"/>
<path d="M712.2,459.0V468.0" stroke="#34466a" stroke-width="0.95"/>
<rect x="711.0" y="462.0" width="2.4" height="3.4" fill="#34466a" stroke="#34466a" stroke-width="0.95"/>
<path d="M716.1,460.0V470.0" stroke="#34466a" stroke-width="0.95"/>
<rect x="714.9" y="463.8" width="2.4" height="3.5" fill="#fff" stroke="#34466a" stroke-width="0.95"/>
<path d="M720.0,449.0V469.0" stroke="#34466a" stroke-width="0.95"/>
<rect x="718.8" y="452.0" width="2.4" height="15.3" fill="#fff" stroke="#34466a" stroke-width="0.95"/>
<path d="M723.8,451.0V460.0" stroke="#34466a" stroke-width="0.95"/>
<rect x="722.6" y="453.7" width="2.4" height="3.6" fill="#fff" stroke="#34466a" stroke-width="0.95"/>
<path d="M727.7,446.0V456.0" stroke="#34466a" stroke-width="0.95"/>
<rect x="726.5" y="449.0" width="2.4" height="5.0" fill="#fff" stroke="#34466a" stroke-width="0.95"/>
<path d="M731.6,450.0V459.0" stroke="#34466a" stroke-width="0.95"/>
<rect x="730.4" y="452.0" width="2.4" height="4.0" fill="#34466a" stroke="#34466a" stroke-width="0.95"/>
<path d="M735.5,452.0V459.0" stroke="#34466a" stroke-width="0.95"/>
<path d="M734.3,456.0H736.7" stroke="#34466a" stroke-width="1"/>
<path d="M739.4,455.0V468.0" stroke="#34466a" stroke-width="0.95"/>
<rect x="738.2" y="457.9" width="2.4" height="7.7" fill="#fff" stroke="#34466a" stroke-width="0.95"/>
<path d="M743.3,449.6V457.0" stroke="#34466a" stroke-width="0.95"/>
<rect x="742.1" y="453.0" width="2.4" height="2.0" fill="#fff" stroke="#34466a" stroke-width="0.95"/>
<path d="M747.2,452.0V464.0" stroke="#34466a" stroke-width="0.95"/>
<rect x="746.0" y="455.0" width="2.4" height="6.4" fill="#34466a" stroke="#34466a" stroke-width="0.95"/>
<path d="M751.1,447.0V456.0" stroke="#34466a" stroke-width="0.95"/>
<rect x="749.9" y="449.0" width="2.4" height="4.0" fill="#fff" stroke="#34466a" stroke-width="0.95"/>
<path d="M755.0,453.0V461.0" stroke="#34466a" stroke-width="0.95"/>
<rect x="753.8" y="455.5" width="2.4" height="3.5" fill="#fff" stroke="#34466a" stroke-width="0.95"/>
<path d="M758.8,449.0V458.0" stroke="#34466a" stroke-width="0.95"/>
<rect x="757.6" y="451.4" width="2.4" height="3.6" fill="#fff" stroke="#34466a" stroke-width="0.95"/>
<path d="M762.7,450.0V457.0" stroke="#34466a" stroke-width="0.95"/>
<rect x="761.5" y="452.0" width="2.4" height="3.0" fill="#34466a" stroke="#34466a" stroke-width="0.95"/>
<path d="M766.6,450.0V457.0" stroke="#34466a" stroke-width="0.95"/>
<path d="M765.4,454.0H767.8" stroke="#34466a" stroke-width="1"/>
<path d="M770.5,440.0V454.3" stroke="#34466a" stroke-width="0.95"/>
<path d="M769.3,451.0H771.7" stroke="#34466a" stroke-width="1"/>
<path d="M774.4,451.0V458.0" stroke="#34466a" stroke-width="0.95"/>
<rect x="773.2" y="453.0" width="2.4" height="2.5" fill="#34466a" stroke="#34466a" stroke-width="0.95"/>
<path d="M778.3,447.2V457.9" stroke="#34466a" stroke-width="0.95"/>
<rect x="777.1" y="451.4" width="2.4" height="5.3" fill="#34466a" stroke="#34466a" stroke-width="0.95"/>
<path d="M782.2,455.0V461.0" stroke="#34466a" stroke-width="0.95"/>
<rect x="781.0" y="457.3" width="2.4" height="2.3" fill="#34466a" stroke="#34466a" stroke-width="0.95"/>
<path d="M786.1,457.0V465.0" stroke="#34466a" stroke-width="0.95"/>
<rect x="784.9" y="459.0" width="2.4" height="4.0" fill="#34466a" stroke="#34466a" stroke-width="0.95"/>
<path d="M789.9,460.0V467.0" stroke="#34466a" stroke-width="0.95"/>
<rect x="788.7" y="462.0" width="2.4" height="3.6" fill="#34466a" stroke="#34466a" stroke-width="0.95"/>
<path d="M793.8,459.0V465.0" stroke="#34466a" stroke-width="0.95"/>
<path d="M792.6,462.5H795.0" stroke="#34466a" stroke-width="1"/>
<path d="M797.7,451.0V465.0" stroke="#34466a" stroke-width="0.95"/>
<rect x="796.5" y="453.7" width="2.4" height="9.5" fill="#fff" stroke="#34466a" stroke-width="0.95"/>
<path d="M801.6,449.0V455.0" stroke="#34466a" stroke-width="0.95"/>
<rect x="800.4" y="451.4" width="2.4" height="1.7" fill="#fff" stroke="#34466a" stroke-width="0.95"/>
<path d="M113.3,227.5 L175.3,340.4 L260.8,260.0 L413.0,336.3 L453.8,305.8 L487.5,335.5 L521.3,313.8 L545.4,343.0" stroke="#a7222c" stroke-width="9.6" fill="none" stroke-linejoin="round" stroke-opacity="0.88"/>
<path d="M113.3,227.5 L175.3,340.4 L260.8,260.0 L413.0,336.3 L453.8,305.8 L487.5,335.5 L521.3,313.8 L545.4,343.0" stroke="#000" stroke-width="2.5" fill="none" stroke-linejoin="round"/>
<circle cx="545.4" cy="343.1" r="9.0" fill="#1f88d6"/>
<circle cx="545.4" cy="343.1" r="5.6" fill="none" stroke="#0d1a2e" stroke-width="2.2"/>
<circle cx="545.4" cy="343.1" r="3.6" fill="#2a7cc4"/>
<polygon points="113.3,227.3 113.3,343.3 657.7,343.3" fill="none" stroke="#6c9024" stroke-width="3"/>
<path d="M176,343V240.4" stroke="#1f88d6" stroke-width="3.8" stroke-dasharray="14 7" fill="none"/>
<path d="M545.3,345V443.5" stroke="#1f88d6" stroke-width="3.8" stroke-dasharray="14 7" fill="none"/>
<text x="0" y="0" transform="translate(200.6,272.4) scale(1.1,1)" font-size="20" font-weight="bold" font-style="italic" fill="#1f88d6" stroke="#1f88d6" stroke-width="0.7">H</text>
<text x="0" y="0" transform="translate(507.5,374.5) scale(1.1,1)" font-size="20" font-weight="bold" font-style="italic" fill="#1f88d6" stroke="#1f88d6" stroke-width="0.7">H</text>
<circle cx="113.2" cy="213.9" r="10.7" fill="none" stroke="#000" stroke-width="2.2"/>
<text x="113.2" y="216.5" font-size="12" fill="#3d80c0" text-anchor="middle">1</text>
<circle cx="175.3" cy="356.0" r="10.7" fill="none" stroke="#000" stroke-width="2.2"/>
<text x="175.3" y="358.6" font-size="12" fill="#3d80c0" text-anchor="middle">2</text>
<circle cx="261.0" cy="244.7" r="10.7" fill="none" stroke="#000" stroke-width="2.2"/>
<text x="261.0" y="247.3" font-size="12" fill="#3d80c0" text-anchor="middle">3</text>
<circle cx="412.3" cy="348.8" r="10.7" fill="none" stroke="#000" stroke-width="2.2"/>
<text x="412.3" y="351.4" font-size="12" fill="#3d80c0" text-anchor="middle">4</text>
<circle cx="455.3" cy="293.6" r="10.7" fill="none" stroke="#000" stroke-width="2.2"/>
<text x="455.3" y="296.2" font-size="12" fill="#3d80c0" text-anchor="middle">5</text>
<circle cx="486.1" cy="348.3" r="10.7" fill="none" stroke="#000" stroke-width="2.2"/>
<text x="486.1" y="350.9" font-size="12" fill="#3d80c0" text-anchor="middle">6</text>
<circle cx="521.4" cy="299.9" r="10.7" fill="none" stroke="#000" stroke-width="2.2"/>
<text x="521.4" y="302.5" font-size="12" fill="#3d80c0" text-anchor="middle">7</text>
<circle cx="607.9" cy="443.9" r="9.2" fill="#1f88d6"/>
<circle cx="607.9" cy="443.9" r="5.2" fill="#b03030"/>
<path d="M545.4,343 L607.9,443.9" stroke="#2f8ad6" stroke-width="8" fill="none" opacity="0.7"/>
<path d="M545.4,343.0 L611.1,477.5 L638.5,410.5 L657.3,455.3 L681.4,424.3 L708.6,467.1 L727.3,449.3 L747.4,461.3 L758.4,451.5 L789.2,465.4" stroke="#0a1226" stroke-width="2.4" fill="none" stroke-linejoin="round"/>
<path d="M545.4,343 L607.9,443.9" stroke="#0a1226" stroke-width="2.4" fill="none"/>
<circle cx="611.1" cy="477.5" r="6.4" fill="#000"/>
<circle cx="638.5" cy="410.5" r="6.4" fill="#000"/>
<circle cx="657.3" cy="455.3" r="6.4" fill="#000"/>
<circle cx="681.4" cy="424.3" r="6.4" fill="#000"/>
<circle cx="708.6" cy="467.1" r="6.4" fill="#000"/>
<circle cx="727.3" cy="449.3" r="6.4" fill="#000"/>
<circle cx="747.4" cy="461.3" r="6.4" fill="#000"/>
<circle cx="758.4" cy="451.5" r="6.4" fill="#000"/>
<circle cx="789.2" cy="465.4" r="6.4" fill="#000"/>
<path d="M434,357.5 L531,344" stroke="#3a5f8f" stroke-width="1.5" fill="none"/>
<polygon points="538.5,343 528,339.5 530,348" fill="#1f88d6"/>
<circle cx="420.2" cy="363.4" r="15" fill="#1f80d4" stroke="#1c5f9e" stroke-width="1"/>
<path d="M412.51,358.47 L419.29,358.47M415.90,357.18 L415.90,360.12M411.87,360.67 L419.93,360.67 L419.02,362.68M413.97,361.58 L414.98,362.41M413.97,363.05 L414.98,363.88M410.95,364.70 L420.85,364.70M416.27,362.87 L416.08,365.25 L411.68,367.82M416.27,365.43 L420.76,367.82" stroke="#fff" stroke-width="1.15" fill="none" stroke-linecap="round" stroke-linejoin="round"/>
<text x="422.3" y="367.0" font-size="12" fill="#fff">1</text>
<path d="M435,444 H592" stroke="#2a78b8" stroke-width="2.3" fill="none"/>
<polygon points="597,444 588.5,440.3 588.5,447.7" fill="#2a78b8"/>
</g>
<rect x="283.5" y="433" width="59" height="22" rx="3.5" fill="#a3282a" stroke="#6d1b1f" stroke-width="1"/>
<text x="313.2" y="447.8" font-size="14" fill="#fff" text-anchor="middle">0.9813</text>
<rect x="372.5" y="433" width="57" height="22" rx="3.5" fill="#1f80d4" stroke="#1c5f9e" stroke-width="1"/>
<text x="401.6" y="447.8" font-size="14.3" fill="#fff" text-anchor="middle">Target</text>
</svg></body></html>
